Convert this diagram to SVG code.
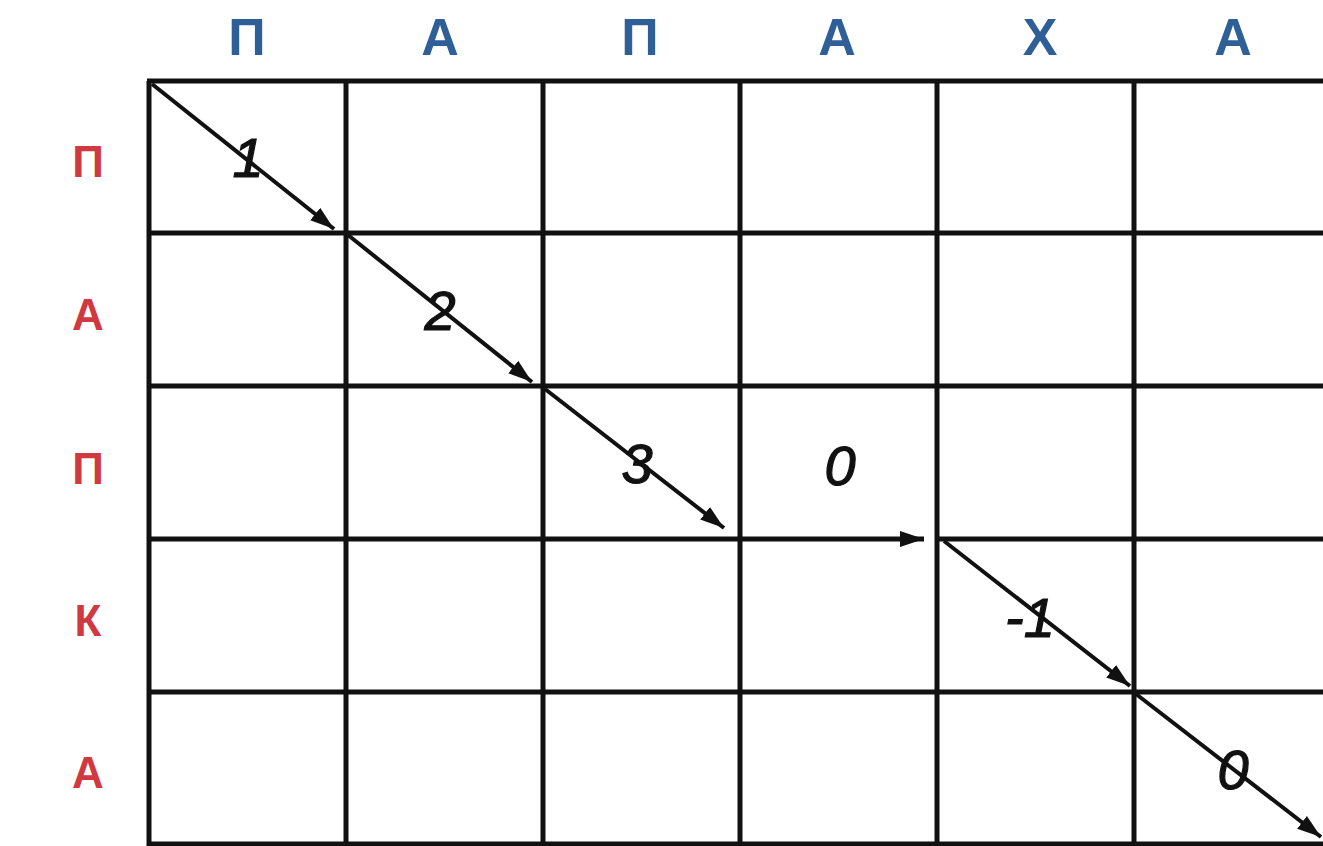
<svg xmlns="http://www.w3.org/2000/svg" width="1323" height="846" viewBox="0 0 1323 846">
<defs>
<style>
.grid{stroke:#111;stroke-width:5;fill:none}
.arr{stroke:#111;stroke-width:4;fill:none;marker-end:url(#ah)}
.top{font-family:"Liberation Sans",Arial,sans-serif;font-weight:bold;font-size:52px;fill:#2f5f97;text-anchor:middle}
.left{font-family:"Liberation Sans",Arial,sans-serif;font-weight:bold;font-size:44px;fill:#d0393f;text-anchor:middle}
.num{font-family:"Liberation Sans",Arial,sans-serif;font-style:italic;font-size:56px;fill:#111;stroke:#111;stroke-width:1.2;text-anchor:middle}
</style>
<marker id="ah" markerUnits="userSpaceOnUse" markerWidth="26" markerHeight="18" refX="24" refY="8" orient="auto">
<path d="M0,0 L24,8 L0,16 Z" fill="#111"/>
</marker>
</defs>
<rect width="1323" height="846" fill="#fff"/>
<g id="grid">
<path class="grid" d="M149,81 V846 M346,81 V846 M543,81 V846 M740,81 V846 M937,81 V846 M1134,81 V846"/>
<path class="grid" d="M147,81 H1323 M147,233 H1323 M147,386 H1323 M147,539 H740 M937,539 H1323 M147,692 H1323 M147,844 H1323"/>
</g>
<g id="col-labels">
<text class="top" x="247" y="55">П</text>
<text class="top" x="440" y="55">А</text>
<text class="top" x="640" y="55">П</text>
<text class="top" x="837" y="55">А</text>
<text class="top" x="1040" y="55">Х</text>
<text class="top" x="1233" y="55">А</text>
</g>
<g id="row-labels">
<text class="left" x="88" y="177">П</text>
<text class="left" x="88" y="330">А</text>
<text class="left" x="88" y="484">П</text>
<text class="left" x="88" y="636">К</text>
<text class="left" x="88" y="788">А</text>
</g>
<g id="connectors">
<path class="arr" d="M152,84 L334,229"/>
<path class="arr" d="M348,235 L532,382"/>
<path class="arr" d="M545,389 L724,528"/>
<path class="arr" style="stroke-width:5" d="M740,539 L924,539"/>
<path class="arr" d="M944,541 L1130,686"/>
<path class="arr" d="M1136,694 L1321,837"/>
</g>
<g id="weights">
<text class="num" x="248" y="177">1</text>
<text class="num" x="440" y="330">2</text>
<text class="num" x="637" y="483">3</text>
<text class="num" x="840" y="485">0</text>
<text class="num" x="1030" y="637">-1</text>
<text class="num" x="1233" y="789">0</text>
</g>
</svg>
